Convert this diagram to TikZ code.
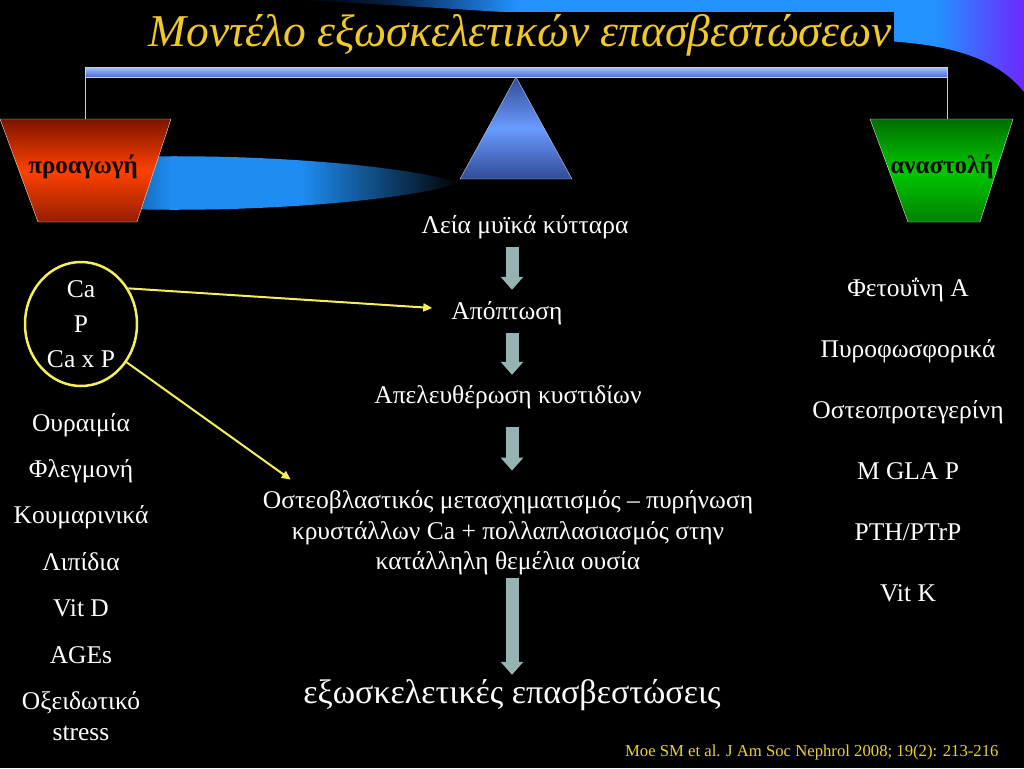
\documentclass[tikz,border=0pt]{standalone}
\usepackage{fontspec}
\setmainfont{Liberation Serif}
\usetikzlibrary{positioning, shapes.geometric, arrows.meta}

\definecolor{titlegold}{RGB}{240,200,40}
\definecolor{citegold}{RGB}{230,210,50}
\definecolor{ylw}{RGB}{245,240,90}
\definecolor{cometblue}{RGB}{30,140,240}
\definecolor{cometdeep}{RGB}{5,30,70}
\definecolor{azure}{RGB}{35,145,255}
\definecolor{violetblue}{RGB}{110,40,255}
\definecolor{barhi}{RGB}{170,195,245}
\definecolor{barlo}{RGB}{70,110,215}
\definecolor{barline}{RGB}{200,205,230}
\definecolor{trimid}{RGB}{105,155,255}
\definecolor{triend}{RGB}{50,75,150}
\definecolor{redtop}{RGB}{125,20,0}
\definecolor{redmid}{RGB}{255,65,0}
\definecolor{redbot}{RGB}{150,30,0}
\definecolor{grntop}{RGB}{0,110,0}
\definecolor{grnmid}{RGB}{0,200,0}
\definecolor{grnbot}{RGB}{0,130,0}
\definecolor{edgelight}{RGB}{230,225,215}
\definecolor{tagdark}{RGB}{15,10,5}
\definecolor{arrowgray}{RGB}{150,178,178}

\pgfdeclarehorizontalshading{cometshade}{100bp}{color(0bp)=(black); color(25bp)=(black); color(31bp)=(cometdeep); color(42bp)=(cometblue); color(57bp)=(cometblue); color(75bp)=(black); color(100bp)=(black)}
\pgfdeclarehorizontalshading{swooshshade}{100bp}{color(0bp)=(black); color(25bp)=(black); color(31bp)=(cometdeep); color(40bp)=(azure); color(69bp)=(azure); color(75bp)=(violetblue); color(100bp)=(violetblue)}

\begin{document}
\begin{tikzpicture}[x=1pt, y=-1pt, node distance=18pt,
  txt/.style={text=white, font=\fontsize{25.5}{30}\selectfont, text height=18pt, text depth=6pt, inner sep=2pt},
  multi/.style={text=white, align=center, inner sep=2pt},
  tag/.style={text=tagdark, font=\bfseries\fontsize{25}{30}\selectfont},
  blk/.style={-{Triangle[length=13pt, width=22pt]}, line width=13pt, draw=arrowgray},
  yarrow/.style={-{Triangle[length=9pt, width=8pt]}, line width=2pt, draw=ylw}]
	\useasboundingbox (0,0) rectangle (1024,768);
	\fill[black] (0,0) rectangle (1024,768);

	% swoosh and title
	\shade[shading=swooshshade] (300,0) -- (1024,0) -- (1024,92) .. controls (1000,62) and (960,47) .. (900,42) .. controls (700,24) and (450,8) .. (300,0) -- cycle;
	\node[fill=black, text=titlegold, font=\itshape\fontsize{45.5}{50}\selectfont, inner sep=2pt, anchor=base] (title) at (520,46) {Μοντέλο εξωσκελετικών επασβεστώσεων};

	% balance
	\shadedraw[top color=barhi, bottom color=barlo, draw=barline] (85,67) rectangle (947,77);
	\draw[barline] (85,77) -- (85,119);
	\draw[barline] (947,77) -- (947,119);
	\shadedraw[top color=triend, bottom color=triend, middle color=trimid, draw=barline] (516,77) -- (572,179) -- (460,179) -- cycle;
	\shade[shading=cometshade] (20,183) .. controls (20,155) and (150,155) .. (230,157) .. controls (330,160) and (420,170) .. (460,183) .. controls (420,196) and (330,206) .. (230,209) .. controls (150,211) and (20,211) .. (20,183) -- cycle;
	\shadedraw[top color=redtop, bottom color=redbot, middle color=redmid, draw=edgelight] (0,119) -- (171,119) -- (137,222) -- (38,222) -- cycle;
	\shadedraw[top color=grntop, bottom color=grnbot, middle color=grnmid, draw=edgelight] (870,119) -- (1013,119) -- (980,222) -- (908,222) -- cycle;
	\node[tag] (pro) at (83,167) {προαγωγή};
	\node[tag] (ana) at (942,167) {αναστολή};

	% centre column
	\node[txt] (lm) at (525,227) {Λεία μυϊκά κύτταρα};
	\node[txt] (ap) at (507,313) {Απόπτωση};
	\node[txt] (av) at (508,397) {Απελευθέρωση κυστιδίων};
	\node[multi, font=\fontsize{25.5}{30.5}\selectfont] (ob) at (508,533) {Οστεοβλαστικός μετασχηματισμός – πυρήνωση\\κρυστάλλων Ca + πολλαπλασιασμός στην\\κατάλληλη θεμέλια ουσία};
	\node[txt, font=\fontsize{34}{38}\selectfont, text height=24pt, text depth=8pt] (ex) at (512,695) {εξωσκελετικές επασβεστώσεις};

	\draw[blk, shorten <=6pt, shorten >=9pt] (lm.south -| ex) -- (ap.north -| ex);
	\draw[blk, shorten <=6pt, shorten >=8pt] (ap.south -| ex) -- (av.north -| ex);
	\draw[blk, shorten <=16pt, shorten >=18pt] (av.south -| ex) -- (ob.north -| ex);
	\draw[blk, shorten <=1pt, shorten >=2pt] (ob.south -| ex) -- (ex.north);

	% left column
	\node[multi, draw=ylw, line width=2.5pt, ellipse, minimum width=112pt, minimum height=124pt, inner sep=0pt, font=\fontsize{25.5}{35}\selectfont] (ca) at (81,324) {Ca\\P\\Ca x P};
	\node[txt] (ur) at (81,425) {Ουραιμία};
	\node[txt, below=of ur] (fl) {Φλεγμονή};
	\node[txt, below=of fl] (ko) {Κουμαρινικά};
	\node[txt, below=of ko] (li) {Λιπίδια};
	\node[txt, below=of li] (vd) {Vit D};
	\node[txt, below=of vd] (ag) {AGEs};
	\node[multi, font=\fontsize{25.5}{31}\selectfont, below=of ag] (ox) {Οξειδωτικό\\stress};

	\draw[yarrow] (ca.37) -- ([shift={(-17pt,5pt)}]ap.west);
	\draw[yarrow] (ca.-40) -- ([shift={(30pt,9pt)}]ob.north west);

	% right column
	\node[txt] (fe) at (908,290) {Φετουΐνη Α};
	\node[txt, below=32.6pt of fe] (py) {Πυροφωσφορικά};
	\node[txt, below=32.6pt of py] (os) {Οστεοπροτεγερίνη};
	\node[txt, below=32.6pt of os] (mg) {M GLA P};
	\node[txt, below=32.6pt of mg] (pt) {PTH/PTrP};
	\node[txt, below=32.6pt of pt] (vk) {Vit K};

	\node[text=citegold, font=\fontsize{16.7}{20}\selectfont, anchor=east] (cite) at (1002,752) {Moe SM et al. J Am Soc Nephrol 2008; 19(2): 213-216};
\end{tikzpicture}
\end{document}
